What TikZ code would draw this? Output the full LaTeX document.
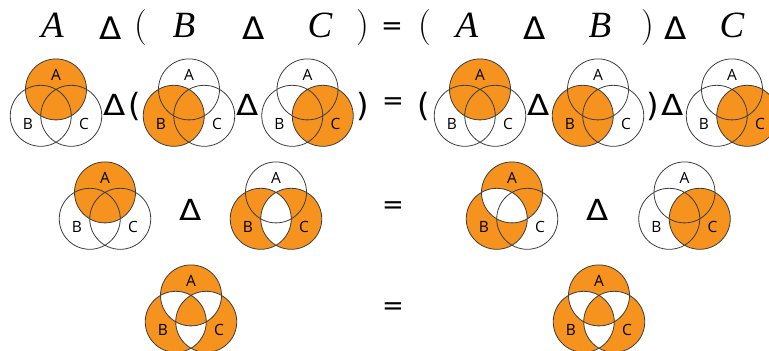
\documentclass[tikz,border=0pt]{standalone}
\usepackage{fontspec}
\newfontfamily\lblfont{Open Sans}
\newfontfamily\eqfont{DejaVu Sans}
\newfontfamily\itfont{Liberation Serif Italic}
\definecolor{vorange}{RGB}{246,147,30}
\definecolor{vline}{RGB}{60,60,60}
\newcommand\vA{(0,-17.6) circle[radius=30.5pt]}
\newcommand\vB{(-15.25,8.8) circle[radius=30.5pt]}
\newcommand\vC{(15.25,8.8) circle[radius=30.5pt]}
\newcommand\wideDelta[1]{\scalebox{#1}[1]{Δ}}
\newcommand\VennDia[4]{%
  \begin{scope}[shift={(#2,#3)}]
    \fill[vorange, even odd rule] #4;
    \draw[vline, line width=0.8pt] \vA \vB \vC;
    \node[lbl] (#1A) at (0,-32) {A};
    \node[lbl] (#1B) at (-28,16.5) {B};
    \node[lbl] (#1C) at (28,16.5) {C};
  \end{scope}}
\tikzset{
  lbl/.style={font=\lblfont\fontsize{15.5}{15.5}\selectfont, inner sep=0pt, text=black},
  mth/.style={font=\fontsize{36}{36}\selectfont, inner sep=0pt},
  let/.style={font=\itfont\fontsize{37}{37}\selectfont, inner sep=0pt},
  tri/.style={font=\eqfont\fontsize{31}{31}\selectfont, inner sep=0pt},
  bigtri/.style={font=\eqfont\fontsize{29}{29}\selectfont, inner sep=0pt},
  par/.style={font=\eqfont\fontsize{32}{32}\selectfont, inner sep=0pt},
  eqs/.style={font=\eqfont\fontsize{26}{26}\selectfont, inner sep=0pt},
}
\begin{document}
\begin{tikzpicture}[x=1pt, y=-1pt]
\useasboundingbox (0,0) rectangle (769,351);
% row 1
\node[let] (t1) at (52.5,25.5) {A};
\node[tri] (t2) at (111,28.5) {\wideDelta{1.05}};
\node[mth] (t3) at (141,28) {(};
\node[let] (t4) at (184,25.5) {B};
\node[tri] (t5) at (254,28.5) {\wideDelta{1.05}};
\node[let] (t6) at (320,25.5) {C};
\node[mth] (t7) at (362.5,28) {)};
\node[eqs] (t8) at (392,29) {=};
\node[mth] (t9) at (425,28) {(};
\node[let] (t10) at (467,25.5) {A};
\node[tri] (t11) at (535,28.5) {\wideDelta{1.05}};
\node[let] (t12) at (600,25.5) {B};
\node[mth] (t13) at (648,28) {)};
\node[tri] (t14) at (676,28.5) {\wideDelta{1.05}};
\node[let] (t15) at (732,25.5) {C};
% row 2
\VennDia{ra}{56}{107}{\vA}
\VennDia{rb}{189}{107}{\vB}
\VennDia{rc}{307.5}{107}{\vC}
\VennDia{rd}{480}{107}{\vA}
\VennDia{re}{598}{107}{\vB}
\VennDia{rf}{732}{107}{\vC}
\node[bigtri] (s1) at (115,105) {\wideDelta{1.12}};
\node[par] (s2) at (135,106) {(};
\node[bigtri] (s3) at (248,105) {\wideDelta{1.12}};
\node[par] (s4) at (362.5,106) {)};
\node[eqs] (s5) at (393,104) {=};
\node[par] (s6) at (424,106) {(};
\node[bigtri] (s7) at (539,105) {\wideDelta{1.12}};
\node[par] (s8) at (653,106) {)};
\node[bigtri] (s9) at (673,105) {\wideDelta{1.12}};
% row 3
\VennDia{qa}{105}{210}{\vA}
\VennDia{qb}{276}{210}{\vB \vC}
\VennDia{qc}{512}{210}{\vA \vB}
\VennDia{qd}{684.5}{210}{\vC}
\node[bigtri] (u1) at (191,210) {\wideDelta{1.12}};
\node[eqs] (u2) at (393,208) {=};
\node[bigtri] (u3) at (597.5,210) {\wideDelta{1.12}};
% row 4
\VennDia{pa}{191}{313}{\vA \vB \vC}
\VennDia{pb}{599}{313}{\vA \vB \vC}
\node[eqs] (w1) at (393,309) {=};
\end{tikzpicture}
\end{document}
